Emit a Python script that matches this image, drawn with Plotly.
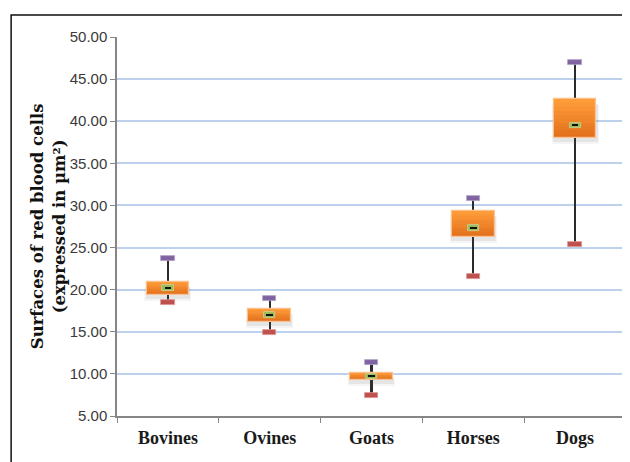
import plotly.graph_objects as go

categories = ["Bovines", "Ovines", "Goats", "Horses", "Dogs"]
minimum = [18.5, 14.9, 7.4, 21.6, 25.4]
q1 = [19.4, 16.2, 9.3, 26.3, 38.0]
median = [20.2, 17.0, 9.7, 27.3, 39.5]
q3 = [20.9, 17.7, 10.1, 29.3, 42.6]
maximum = [23.7, 18.9, 11.3, 30.8, 47.0]

y_ticks = [5, 10, 15, 20, 25, 30, 35, 40, 45, 50]

fig = go.Figure()

# whiskers (thin bars, drawn beneath the boxes)
fig.add_trace(go.Bar(x=categories, y=[b - a for a, b in zip(minimum, maximum)],
                     base=minimum, width=0.02,
                     marker=dict(color="#2b2b2b", line=dict(width=0)), hoverinfo="skip"))

# soft shadow under box
for off, alpha, w in [(0.7, 0.06, 0.46), (0.5, 0.10, 0.44)]:
    fig.add_trace(go.Bar(x=categories, y=[b - a for a, b in zip(q1, q3)],
                         base=[a - off for a in q1], width=w,
                         marker=dict(color="rgba(90,90,90,%s)" % alpha, line=dict(width=0)),
                         hoverinfo="skip"))

# box with vertical gradient (bands)
N = 10
top = (255, 156, 58)
bot = (226, 112, 28)
for i in range(N):
    t = i / (N - 1)
    col = "rgb(%d,%d,%d)" % tuple(round(top[k] + (bot[k] - top[k]) * t) for k in range(3))
    fig.add_trace(go.Bar(
        x=categories,
        y=[(b - a) / N for a, b in zip(q1, q3)],
        base=[b - (b - a) * (i + 1) / N for a, b in zip(q1, q3)],
        width=0.42,
        marker=dict(color=col, line=dict(width=0)),
        hoverinfo="skip"))
fig.add_trace(go.Bar(x=categories, y=[b - a for a, b in zip(q1, q3)], base=q1, width=0.42,
                     marker=dict(color="rgba(0,0,0,0)", line=dict(color="#FBC08E", width=1.2)),
                     hoverinfo="skip"))

# caps
fig.add_trace(go.Bar(x=categories, y=[0.6] * 5, base=[v - 0.3 for v in maximum], width=0.13,
                     marker=dict(color="#8064A2", line=dict(color="#B3A2C7", width=0.8)),
                     hoverinfo="skip"))
fig.add_trace(go.Bar(x=categories, y=[0.6] * 5, base=[v - 0.3 for v in minimum], width=0.13,
                     marker=dict(color="#C0504D", line=dict(color="#DA9694", width=0.8)),
                     hoverinfo="skip"))

# median marker
fig.add_trace(go.Bar(x=categories, y=[0.65] * 5, base=[v - 0.325 for v in median], width=0.11,
                     marker=dict(color="#9BBB59", line=dict(color="#C3D69B", width=0.8)),
                     hoverinfo="skip"))
fig.add_trace(go.Bar(x=categories, y=[0.25] * 5, base=[v - 0.125 for v in median], width=0.065,
                     marker=dict(color="#111111", line=dict(width=0)),
                     hoverinfo="skip"))

fig.update_layout(
    width=622, height=454,
    margin=dict(l=109, r=4, t=29, b=46),
    paper_bgcolor="white", plot_bgcolor="white",
    barmode="overlay", bargap=0,
    showlegend=False,
    xaxis=dict(type="category", categoryorder="array", categoryarray=categories,
               tickvals=categories, ticktext=["<b>%s</b>" % c for c in categories],
               tickson="boundaries", ticks="outside", ticklen=5, tickcolor="#868686",
               ticklabelstandoff=5,
               showline=True, linecolor="#868686", linewidth=1.5,
               showgrid=False, range=[-0.5, 4.5],
               tickfont=dict(family="Liberation Serif", size=18, color="#1a1a1a"),
               fixedrange=True),
    yaxis=dict(range=[5, 50], tickvals=y_ticks, tickformat=".2f",
               ticks="outside", ticklen=5, tickcolor="#868686",
               showline=True, linecolor="#868686", linewidth=1.5,
               showgrid=True, gridcolor="#BDD0EC", gridwidth=1.5,
               tickfont=dict(family="Liberation Sans", size=15, color="#3a3a3a"),
               zeroline=False, fixedrange=True),
    annotations=[dict(
        text="<b>Surfaces of red blood cells<br>(expressed in µm²)</b>",
        xref="paper", yref="paper", x=-0.136, y=0.5, textangle=-90,
        showarrow=False, xanchor="center", yanchor="middle",
        font=dict(family="DejaVu Serif", size=16.5, color="#111111"))],
    shapes=[dict(type="rect", xref="paper", yref="paper",
                 x0=-0.208, x1=1.2, y0=-0.5, y1=1.058,
                 line=dict(color="#111111", width=1.5), layer="above")],
)

fig.write_html("out.html")
